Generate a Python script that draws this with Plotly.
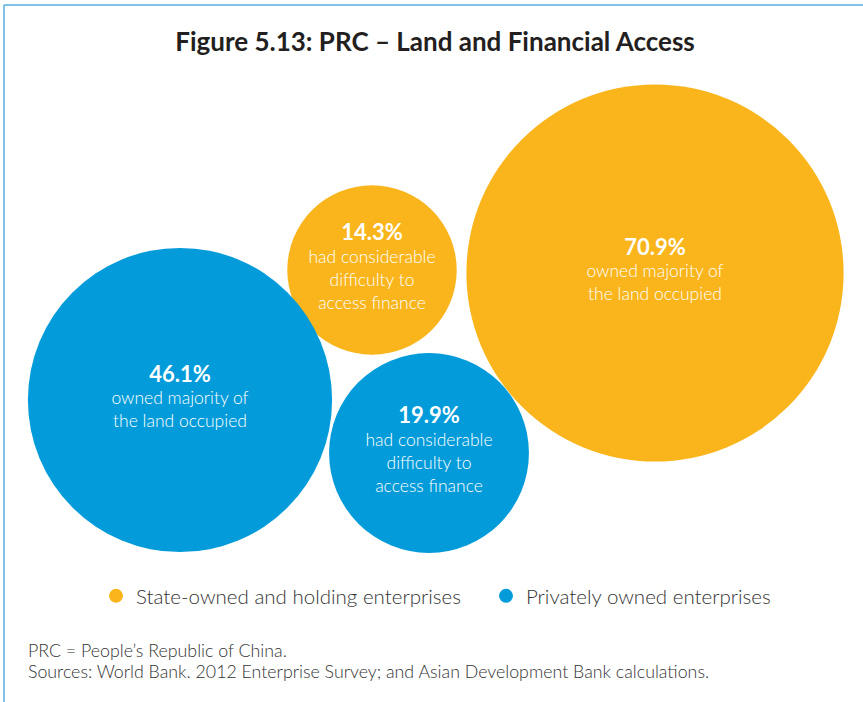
import plotly.graph_objects as go

W, H = 863, 702

# --- data -------------------------------------------------------------
groups = ["State-owned and holding enterprises", "Privately owned enterprises"]
land_share = [70.9, 46.1]        # % that owned majority of the land occupied
finance_share = [14.3, 19.9]     # % that had considerable difficulty to access finance
land_desc = "owned majority of<br>the land occupied"
finance_desc = "had considerable<br>difficulty to<br>access finance"

# --- layout of the bubbles (pixel-like canvas coordinates) ------------
land_xy = [(655, 273), (180, 400)]
finance_xy = [(372, 270), (429, 453)]
colors = ["#F9B51B", "#039BD9"]
legend_ids = ["legend", "legend2"]
legend_x = [96, 486]

# area-proportional bubbles (~44.8 px of diameter per sqrt(percent))
SIZEREF = 2 / 44.8 ** 2

fig = go.Figure()
for i, name in enumerate(groups):
    vals = [land_share[i], finance_share[i]]
    xs = [land_xy[i][0], finance_xy[i][0]]
    ys = [land_xy[i][1], finance_xy[i][1]]
    texts = [
        f"<span style='font-size:22px'><b>{vals[0]:.1f}%</b></span><br>{land_desc}",
        f"<span style='font-size:22px'><b>{vals[1]:.1f}%</b></span><br>{finance_desc}",
    ]
    fig.add_trace(go.Scatter(
        x=xs, y=ys, mode="markers+text",
        marker=dict(size=vals, sizemode="area", sizeref=SIZEREF,
                    color=colors[i], line=dict(width=0), opacity=1),
        text=texts, textposition="middle center",
        textfont=dict(family="Lato", size=17.5, color="white", weight=300),
        hoverinfo="skip", showlegend=False, legendgroup=name,
    ))
    # legend entry, one legend box per enterprise group
    fig.add_trace(go.Scatter(
        x=[None], y=[None], mode="markers", name=name, legendgroup=name,
        legend=legend_ids[i], marker=dict(size=14, color=colors[i]),
    ))

legend_style = dict(
    orientation="h", xanchor="left", y=1 - 596 / H, yanchor="middle",
    font=dict(family="Lato", size=20.5, color="#333333", weight=300),
    itemwidth=30, bgcolor="rgba(0,0,0,0)",
)

fig.update_layout(
    width=W, height=H,
    margin=dict(l=0, r=0, t=0, b=0),
    paper_bgcolor="white", plot_bgcolor="white",
    xaxis=dict(range=[0, W], visible=False, fixedrange=True),
    yaxis=dict(range=[H, 0], visible=False, fixedrange=True),
    title=dict(
        text="<b>Figure 5.13: PRC – Land and Financial Access</b>",
        x=435 / W, xanchor="center", y=1 - 42 / H, yanchor="middle",
        font=dict(family="Lato", size=26, color="#231F20"),
    ),
    legend=dict(legend_style, x=legend_x[0] / W),
    legend2=dict(legend_style, x=legend_x[1] / W),
    showlegend=True,
)

# notes and sources
notes = [
    "PRC = People’s Republic of China.",
    "Sources: World Bank. 2012 Enterprise Survey; and Asian Development Bank calculations.",
]
for k, line in enumerate(notes):
    fig.add_annotation(
        text=line, xref="paper", yref="paper", x=26 / W, y=1 - (650 + 21 * k) / H,
        xanchor="left", yanchor="middle", align="left", showarrow=False,
        font=dict(family="Lato", size=17.8, color="#333333", weight=300),
    )

# frame rules along the top and left edges
frame = "#5AAEE0"
fig.add_shape(type="line", xref="paper", yref="paper",
              x0=4 / W, x1=1, y0=1 - 5 / H, y1=1 - 5 / H,
              line=dict(color=frame, width=1.5))
fig.add_shape(type="line", xref="paper", yref="paper",
              x0=4 / W, x1=4 / W, y0=1 - 5 / H, y1=0,
              line=dict(color=frame, width=1.5))

fig.write_html("out.html")
